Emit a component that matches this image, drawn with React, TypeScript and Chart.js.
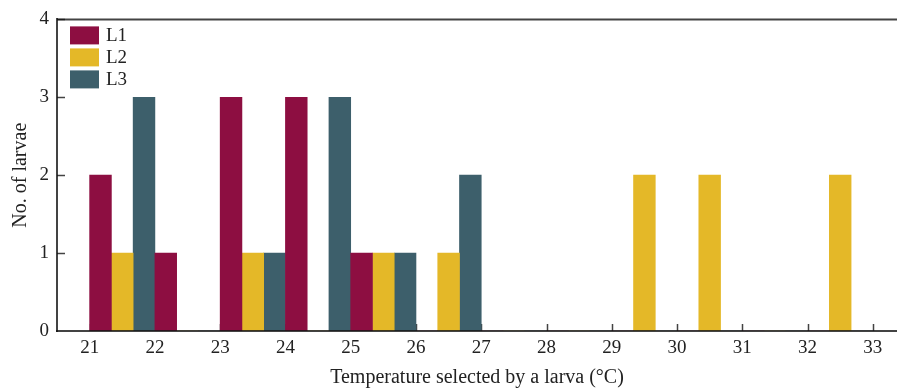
import React, { useEffect, useRef } from "react";
import { Chart, registerables } from "chart.js";

Chart.register(...registerables);

// Temperature bins (°C): each bar group sits at the centre of a 1-degree bin
const binCenters = [21.5, 22.5, 23.5, 24.5, 25.5, 26.5, 27.5, 28.5, 29.5, 30.5, 31.5, 32.5];
const seriesLabels = ["L1", "L2", "L3"];
const l1Counts = [2, 1, 3, 3, 1, 0, 0, 0, 0, 0, 0, 0];
const l2Counts = [1, 0, 1, 0, 1, 1, 0, 0, 2, 2, 0, 2];
const l3Counts = [3, 0, 1, 3, 1, 2, 0, 0, 0, 0, 0, 0];
const xTickValues = [21, 22, 23, 24, 25, 26, 27, 28, 29, 30, 31, 32, 33];
const yTickValues = [0, 1, 2, 3, 4];
const seriesColors = ["#8d0e41", "#e4b828", "#3d5f6b"];

const FONT_FAMILY = "'Liberation Serif', 'Times New Roman', serif";
const AXIS_COLOR = "rgba(20,20,20,0.8)";

// Inward tick marks, drawn under the bars
const innerTicks = {
  id: "innerTicks",
  beforeDatasetsDraw(chart: any) {
    const { ctx, chartArea, scales } = chart;
    ctx.save();
    ctx.strokeStyle = AXIS_COLOR;
    ctx.lineWidth = 1.5;
    ctx.beginPath();
    for (const v of xTickValues) {
      const px = Math.round(scales.x.getPixelForValue(v)) + 0.5;
      ctx.moveTo(px, chartArea.bottom);
      ctx.lineTo(px, chartArea.bottom - 7);
    }
    for (const v of yTickValues) {
      if (v === 0) continue;
      const py = Math.round(scales.y.getPixelForValue(v)) + 0.5;
      ctx.moveTo(chartArea.left, py);
      ctx.lineTo(chartArea.left + 8, py);
    }
    ctx.stroke();
    ctx.restore();
  },
};

// Top frame line and the legend inside the plot area
const frameAndLegend = {
  id: "frameAndLegend",
  afterDraw(chart: any) {
    const { ctx, chartArea } = chart;
    ctx.save();
    ctx.strokeStyle = AXIS_COLOR;
    ctx.lineWidth = 2;
    ctx.beginPath();
    ctx.moveTo(chartArea.left, chartArea.top);
    ctx.lineTo(chartArea.right, chartArea.top);
    ctx.stroke();

    const x0 = chartArea.left + 13;
    const y0 = chartArea.top + 7;
    const boxW = 29;
    const boxH = 18;
    const step = 22;
    ctx.font = `19px ${FONT_FAMILY}`;
    ctx.textBaseline = "middle";
    ctx.textAlign = "left";
    chart.data.datasets.forEach((ds: any, i: number) => {
      const y = y0 + i * step;
      ctx.fillStyle = ds.backgroundColor;
      ctx.fillRect(x0, y, boxW, boxH);
      ctx.fillStyle = "#222";
      ctx.fillText(ds.label, x0 + boxW + 7, y + boxH / 2 + 1);
    });
    ctx.restore();
  },
};

export default function App() {
  const canvasRef = useRef<HTMLCanvasElement | null>(null);

  useEffect(() => {
    document.body.style.margin = "0";
    document.body.style.overflow = "hidden";
    const canvas = canvasRef.current;
    if (!canvas) return;

    const countsBySeries = [l1Counts, l2Counts, l3Counts];
    const tickFont = { family: FONT_FAMILY, size: 19 };
    const titleFont = { family: FONT_FAMILY, size: 20 };

    const chart = new Chart(canvas, {
      type: "bar",
      data: {
        datasets: seriesLabels.map((label, s) => ({
          label,
          data: binCenters.map((x, i) => ({ x, y: countsBySeries[s][i] })),
          backgroundColor: seriesColors[s],
          borderWidth: 0,
          categoryPercentage: 1,
          barPercentage: 1,
        })),
      },
      options: {
        animation: false,
        responsive: false,
        devicePixelRatio: 1,
        layout: { padding: { top: 17, right: 0, bottom: 0, left: 0 } },
        plugins: {
          legend: { display: false },
          tooltip: { enabled: false },
        },
        scales: {
          x: {
            type: "linear",
            offset: false,
            min: 20.5,
            max: 33.37,
            afterBuildTicks: (scale: any) => {
              scale.ticks = xTickValues.map((value) => ({ value }));
            },
            afterFit: (scale: any) => {
              scale.height = 59;
            },
            ticks: {
              font: tickFont,
              color: "#222",
              padding: 6,
              autoSkip: false,
              maxRotation: 0,
            },
            grid: { display: false, drawTicks: false },
            border: { display: true, color: AXIS_COLOR, width: 2, z: 1 },
            title: {
              display: true,
              text: "Temperature selected by a larva (°C)",
              font: titleFont,
              color: "#222",
              padding: { top: 4, bottom: 0 },
            },
          },
          y: {
            type: "linear",
            min: 0,
            max: 4,
            afterBuildTicks: (scale: any) => {
              scale.ticks = yTickValues.map((value) => ({ value }));
            },
            afterFit: (scale: any) => {
              scale.width = 57;
            },
            ticks: {
              font: tickFont,
              color: "#222",
              padding: 8,
            },
            grid: { display: false, drawTicks: false },
            border: { display: true, color: AXIS_COLOR, width: 2, z: 1 },
            title: {
              display: true,
              text: "No. of larvae",
              font: titleFont,
              color: "#222",
              padding: { top: 9, bottom: 0 },
            },
          },
        },
      },
      plugins: [innerTicks, frameAndLegend],
    } as any);

    return () => chart.destroy();
  }, []);

  return (
    <div style={{ position: "fixed", left: 0, top: 0, width: 897, height: 390, background: "#fff" }}>
      <canvas ref={canvasRef} width={897} height={390} style={{ display: "block" }} />
    </div>
  );
}
